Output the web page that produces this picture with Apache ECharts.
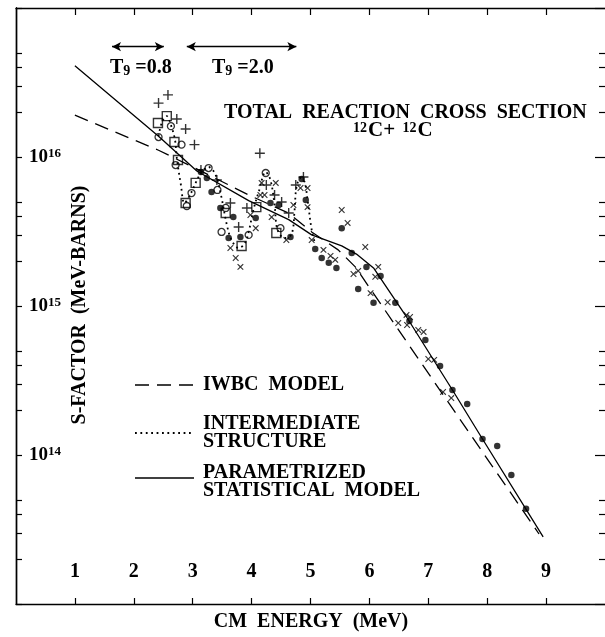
<!DOCTYPE html>
<html><head><meta charset="utf-8">
<script src="https://cdn.jsdelivr.net/npm/echarts@6/dist/echarts.min.js"></script>
<style>html,body{margin:0;padding:0;background:#fff}#c{width:605px;height:637px}</style>
</head><body><div id="c"></div>
<script>
// ---- tick labels ----
const xTickValues = [1, 2, 3, 4, 5, 6, 7, 8, 9];
const yMajorValues = [1e13, 1e14, 1e15, 1e16, 1e17];
const yLabelValues = [1e14, 1e15, 1e16];
const yLabelExponents = ['14', '15', '16'];
const yMinorValues = [2e13,3e13,4e13,5e13, 2e14,3e14,4e14,5e14, 2e15,3e15,4e15,5e15, 2e16,3e16,4e16,5e16];

// ---- model curves [E_cm (MeV), S (MeV-barns)] ----
const psmModel = [[1.00,4.10e16],[2.42,1.38e16],[3.07,8.05e15],[3.95,5.10e15],[4.63,3.80e15],[5.02,3.00e15],[5.53,2.53e15],[5.78,2.23e15],[6.07,1.80e15],[6.61,8.70e14],[7.41,2.73e14],[7.92,1.28e14],[8.95,2.82e13]];
const iwbcModel = [[1.00,1.91e16],[2.42,1.11e16],[3.10,8.20e15],[3.95,5.56e15],[4.63,4.20e15],[5.02,3.14e15],[5.47,2.38e15],[5.76,1.83e15],[7.29,2.41e14],[8.88,2.95e13]];
const intermediate = [[2.42,1.38e16],[2.48,1.72e16],[2.56,1.88e16],[2.63,1.64e16],[2.70,1.30e16],[2.73,9.85e15],[2.80,6.49e15],[2.86,4.91e15],[2.98,5.82e15],[3.05,6.70e15],[3.15,7.93e15],[3.27,8.57e15],[3.39,7.57e15],[3.48,5.56e15],[3.58,3.50e15],[3.66,2.77e15],[3.78,2.45e15],[3.88,2.61e15],[3.95,3.14e15],[4.03,4.41e15],[4.12,5.82e15],[4.24,7.93e15],[4.32,7.02e15],[4.39,4.77e15],[4.44,3.24e15],[4.56,2.86e15],[4.68,3.04e15],[4.73,4.41e15],[4.76,6.19e15],[4.83,7.23e15],[4.90,6.80e15],[4.95,5.14e15],[5.02,3.24e15],[5.07,2.69e15]];

// ---- data points ----
const plusPts = [[2.42,2.30e16],[2.58,2.61e16],[2.73,1.80e16],[2.88,1.54e16],[3.03,1.21e16],[3.14,8.18e15],[3.41,7.01e15],[3.64,4.91e15],[3.78,3.39e15],[3.92,4.55e15],[4.14,1.06e16],[4.25,6.49e15],[4.39,5.56e15],[4.51,4.99e15],[4.63,4.21e15],[4.75,6.49e15],[4.88,7.34e15]];
const squarePts = [[2.41,1.69e16],[2.56,1.88e16],[2.69,1.26e16],[2.75,9.55e15],[2.88,4.91e15],[3.05,6.70e15],[3.56,4.21e15],[3.83,2.53e15],[4.08,4.61e15],[4.42,3.09e15]];
const openCirclePts = [[2.42,1.36e16],[2.63,1.61e16],[2.81,1.21e16],[2.71,8.83e15],[2.98,5.73e15],[2.90,4.69e15],[3.27,8.43e15],[3.42,6.01e15],[3.56,4.55e15],[3.49,3.14e15],[3.95,3.00e15],[4.24,7.81e15],[4.49,3.33e15]];
const filledPts = [[3.14,7.93e15],[3.24,7.23e15],[3.32,5.82e15],[3.47,4.55e15],[3.69,3.95e15],[3.61,2.86e15],[3.81,2.90e15],[4.07,3.90e15],[4.32,4.91e15],[4.46,4.76e15],[4.66,2.90e15],[4.85,7.11e15],[4.92,5.14e15],[5.53,3.33e15],[5.08,2.41e15],[5.19,2.10e15],[5.31,1.95e15],[5.44,1.80e15],[5.70,2.27e15],[5.95,1.83e15],[6.19,1.59e15],[5.81,1.30e15],[6.07,1.05e15],[6.44,1.05e15],[6.68,7.93e14],[6.95,5.92e14],[7.20,3.95e14],[7.41,2.73e14],[7.66,2.20e14],[7.92,1.28e14],[8.17,1.15e14],[8.41,7.34e13],[8.66,4.35e13]];
const crossPts = [[3.64,2.45e15],[3.73,2.10e15],[3.81,1.83e15],[3.98,4.08e15],[4.07,3.33e15],[4.15,5.56e15],[4.22,5.56e15],[4.17,6.70e15],[4.41,6.70e15],[4.34,3.95e15],[4.59,2.77e15],[4.71,4.76e15],[4.83,6.19e15],[4.95,6.19e15],[4.95,4.61e15],[5.02,2.77e15],[5.22,2.38e15],[5.34,2.17e15],[5.42,2.04e15],[5.53,4.41e15],[5.63,3.61e15],[5.73,1.64e15],[5.81,1.72e15],[5.93,2.49e15],[6.10,1.57e15],[6.15,1.83e15],[6.02,1.22e15],[6.31,1.06e15],[6.63,8.71e14],[6.69,8.44e14],[6.49,7.69e14],[6.64,7.45e14],[6.83,6.90e14],[6.92,6.70e14],[7.00,4.41e14],[7.10,4.35e14],[7.25,2.65e14],[7.39,2.41e14]];

// ---- temperature ranges (E_cm, MeV) ----
const tempRanges = [[1.63, 2.51], [2.90, 4.76]];
const tempLabels = ['0.8', '2.0'];
const arrowLevel = 5.5e16;

const FONT = '"Liberation Serif", "DejaVu Serif", serif';
const BLACK = '#000';
const PLUS = 'path://M4.3,0H5.7V4.3H10V5.7H5.7V10H4.3V5.7H0V4.3H4.3Z';

const chart = echarts.init(document.getElementById('c'), null, {renderer: 'canvas'});

function yAxisDef(pos, len, ticks, labels, showLine) {
  return {
    type: 'log', logBase: 10, min: 1e13, max: 1e17, position: pos,
    axisLine: {show: showLine, lineStyle: {color: BLACK, width: 1.4}},
    axisTick: {show: true, inside: true, length: len, customValues: ticks, lineStyle: {color: BLACK, width: 1.2}},
    axisLabel: labels ? {
      show: true, inside: true, margin: 13, customValues: yLabelValues,
      formatter: v => {
        const i = yLabelValues.findIndex(t => Math.abs(t - v) / t < 1e-6);
        return i < 0 ? '' : '{b|10}{s|' + yLabelExponents[i] + '}';
      },
      rich: {
        b: {fontFamily: FONT, fontSize: 19, fontWeight: 'bold', color: BLACK, verticalAlign: 'bottom', lineHeight: 20, padding: [4, 0, 0, 0]},
        s: {fontFamily: FONT, fontSize: 13, fontWeight: 'bold', color: BLACK, verticalAlign: 'top', lineHeight: 14}
      }
    } : {show: false},
    splitLine: {show: false}
  };
}

const markerStyle = {color: BLACK};
const option = {
  backgroundColor: '#fff',
  animation: false,
  grid: {left: 16, right: -1, top: 8, bottom: 33, containLabel: false},
  xAxis: [
    {type: 'value', min: 0, max: 10, interval: 1, position: 'bottom',
     axisLine: {show: true, lineStyle: {color: BLACK, width: 1.4}},
     axisTick: {show: true, inside: true, length: 6, customValues: xTickValues, lineStyle: {color: BLACK, width: 1.2}},
     axisLabel: {show: true, inside: true, margin: 22, customValues: xTickValues, fontFamily: FONT, fontSize: 20, fontWeight: 'bold', color: BLACK},
     splitLine: {show: false}},
    {type: 'value', min: 0, max: 10, interval: 1, position: 'top',
     axisLine: {show: true, lineStyle: {color: BLACK, width: 1.4}},
     axisTick: {show: true, inside: true, length: 7, customValues: xTickValues, lineStyle: {color: BLACK, width: 1.2}},
     axisLabel: {show: false}, splitLine: {show: false}}
  ],
  yAxis: [
    yAxisDef('left', 6, yMajorValues, true, true),
    yAxisDef('left', 6, yMinorValues, false, true),
    yAxisDef('right', 10, yMajorValues, false, false),
    yAxisDef('right', 6, yMinorValues, false, false)
  ],
  series: [
    {name: 'PSM', type: 'line', data: psmModel, showSymbol: false, symbol: 'none', z: 3,
     lineStyle: {color: BLACK, width: 1.3},
     markLine: {silent: true, symbol: ['arrow', 'arrow'], symbolSize: [7, 9], label: {show: false},
       lineStyle: {color: BLACK, width: 1.4, type: 'solid'},
       data: tempRanges.map(r => [{coord: [r[0], arrowLevel]}, {coord: [r[1], arrowLevel]}])}},
    {name: 'IWBC', type: 'line', data: iwbcModel, showSymbol: false, symbol: 'none', z: 3,
     lineStyle: {color: BLACK, width: 1.3, type: [14, 8]}},
    {name: 'Intermediate', type: 'line', data: intermediate, showSymbol: false, symbol: 'none', smooth: 0.35, z: 3,
     lineStyle: {color: BLACK, width: 1.8, type: [1.8, 3.6]}},
    {name: 'plus', type: 'scatter', data: plusPts, symbol: PLUS, symbolSize: 10, itemStyle: markerStyle, z: 5},
    {name: 'cross', type: 'scatter', data: crossPts, symbol: PLUS, symbolSize: 8, symbolRotate: 45, itemStyle: markerStyle, z: 5},
    {name: 'square', type: 'scatter', data: squarePts, symbol: 'rect', symbolSize: 9,
     itemStyle: {color: 'rgba(255,255,255,0)', borderColor: BLACK, borderWidth: 1.4}, z: 5},
    {name: 'circle', type: 'scatter', data: openCirclePts, symbol: 'circle', symbolSize: 7,
     itemStyle: {color: 'rgba(255,255,255,0)', borderColor: BLACK, borderWidth: 1.3}, z: 5},
    {name: 'filled', type: 'scatter', data: filledPts, symbol: 'circle', symbolSize: 6.5, itemStyle: markerStyle, z: 5}
  ],
  graphic: [
    {type: 'text', left: 110, top: 56, z: 10, style: {
      text: '{t|T}{s|9}{t| =' + tempLabels[0] + '}', rich: {
        t: {fontFamily: FONT, fontSize: 20, fontWeight: 'bold', fill: BLACK, verticalAlign: 'top', lineHeight: 20},
        s: {fontFamily: FONT, fontSize: 14, fontWeight: 'bold', fill: BLACK, verticalAlign: 'bottom', lineHeight: 14, padding: [8, 0, 0, 0]}}}},
    {type: 'text', left: 212, top: 56, z: 10, style: {
      text: '{t|T}{s|9}{t| =' + tempLabels[1] + '}', rich: {
        t: {fontFamily: FONT, fontSize: 20, fontWeight: 'bold', fill: BLACK, verticalAlign: 'top', lineHeight: 20},
        s: {fontFamily: FONT, fontSize: 14, fontWeight: 'bold', fill: BLACK, verticalAlign: 'bottom', lineHeight: 14, padding: [8, 0, 0, 0]}}}},
    {type: 'text', left: 224, top: 103, z: 10, style: {text: 'TOTAL  REACTION  CROSS  SECTION', font: 'bold 20px ' + FONT, fill: BLACK}},
    {type: 'text', left: 353, top: 114, z: 10, style: {
      text: '{s|12}{t|C+ }{s|12}{t|C}', rich: {
        t: {fontFamily: FONT, fontSize: 21, fontWeight: 'bold', fill: BLACK, verticalAlign: 'bottom', lineHeight: 20, padding: [6, 2, 0, 1]},
        s: {fontFamily: FONT, fontSize: 14, fontWeight: 'bold', fill: BLACK, verticalAlign: 'top', lineHeight: 14}}}},
    // legend
    {type: 'line', z: 10, shape: {x1: 135, y1: 385, x2: 194, y2: 385}, style: {stroke: BLACK, lineWidth: 1.3, lineDash: [14, 8]}},
    {type: 'line', z: 10, shape: {x1: 135, y1: 433, x2: 194, y2: 433}, style: {stroke: BLACK, lineWidth: 1.8, lineDash: [1.8, 3.6]}},
    {type: 'line', z: 10, shape: {x1: 135, y1: 478, x2: 194, y2: 478}, style: {stroke: BLACK, lineWidth: 1.3}},
    {type: 'text', left: 203, top: 375, z: 10, style: {text: 'IWBC  MODEL', font: 'bold 20px ' + FONT, fill: BLACK}},
    {type: 'text', left: 203, top: 414, z: 10, style: {text: 'INTERMEDIATE\nSTRUCTURE', font: 'bold 20px ' + FONT, fill: BLACK, lineHeight: 18}},
    {type: 'text', left: 203, top: 463, z: 10, style: {text: 'PARAMETRIZED\nSTATISTICAL  MODEL', font: 'bold 20px ' + FONT, fill: BLACK, lineHeight: 18}},
    // axis titles
    {type: 'text', x: 80, y: 305, rotation: Math.PI / 2, z: 10, style: {text: 'S-FACTOR  (MeV-BARNS)', font: 'bold 20px ' + FONT, fill: BLACK, align: 'center', verticalAlign: 'middle'}},
    {type: 'text', x: 311, y: 622, z: 10, style: {text: 'CM  ENERGY  (MeV)', font: 'bold 20px ' + FONT, fill: BLACK, align: 'center', verticalAlign: 'middle'}}
  ]
};
chart.setOption(option);
</script>
</body></html>
